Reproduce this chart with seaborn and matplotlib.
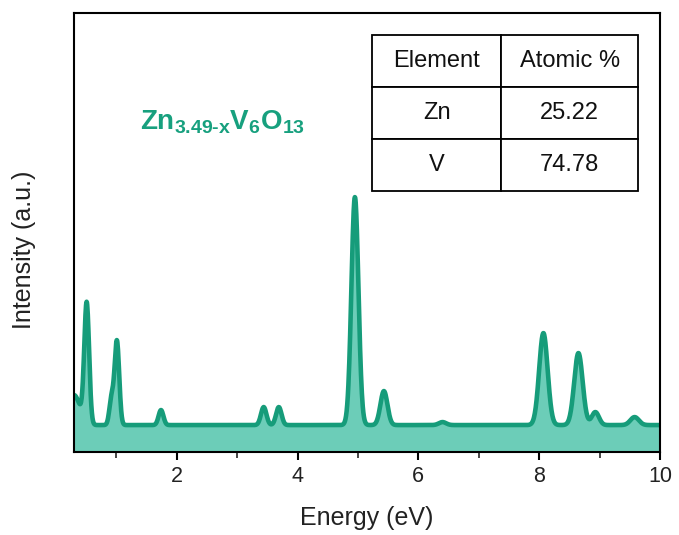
import numpy as np
import pandas as pd
import matplotlib
matplotlib.use("Agg")
import matplotlib.pyplot as plt
import seaborn as sns

# EDS peaks: energy (eV), height above background, width (sigma)
peak_energy = [0.30, 0.51, 0.92, 1.01, 1.74, 3.44, 3.69, 4.95, 5.43, 6.40, 8.07, 8.65, 8.93, 9.58]
peak_height = [30, 120, 26, 84, 15, 18, 18, 228, 34, 3, 92, 72, 13, 8]
peak_sigma = [0.10, 0.04, 0.035, 0.038, 0.04, 0.045, 0.045, 0.058, 0.058, 0.06, 0.07, 0.07, 0.06, 0.07]
background = 27.0

# Table contents
table_header = ["Element", "Atomic %"]
table_elements = ["Zn", "V"]
table_atomic = ["25.22", "74.78"]

x_ticks = [2, 4, 6, 8, 10]
x_minor = [1, 3, 5, 7, 9]

line_color = "#169c7a"
fill_color = "#6ccdb8"

sns.set_theme(style="white")
plt.rcParams["font.family"] = ["Liberation Sans", "DejaVu Sans"]
plt.rcParams["mathtext.fontset"] = "custom"
plt.rcParams["mathtext.bf"] = "Liberation Sans:bold"
plt.rcParams["mathtext.rm"] = "Liberation Sans:bold"

energy = np.linspace(0.3, 10.0, 2000)
counts = np.full_like(energy, background)
for e0, h, s in zip(peak_energy, peak_height, peak_sigma):
    counts += h * np.exp(-0.5 * ((energy - e0) / s) ** 2)
df = pd.DataFrame({"Energy": energy, "Intensity": counts})

fig = plt.figure(figsize=(6.79, 5.35), dpi=100)
ax = fig.add_axes([0.109, 0.155, 0.863, 0.8206])

ax.fill_between(df["Energy"], 0, df["Intensity"], color=fill_color, linewidth=0, zorder=1)
sns.lineplot(data=df, x="Energy", y="Intensity", ax=ax, color=line_color, linewidth=3.3, zorder=2)

ax.set_xlim(0.3, 10.0)
ax.set_ylim(0, 439)
ax.set_xticks(x_ticks)
ax.set_xticks(x_minor, minor=True)
ax.set_yticks([])
ax.tick_params(axis="x", which="major", direction="out", length=6, width=1.5,
               labelsize=15.5, labelcolor="#222222", colors="black", bottom=True, pad=4)
ax.tick_params(axis="x", which="minor", direction="out", length=4, width=1.2, bottom=True)
for sp in ax.spines.values():
    sp.set_color("black")
    sp.set_linewidth(1.5)

ax.set_xlabel("")
ax.set_ylabel("")
fig.text(367 / 679, 1 - 518 / 535, "Energy (eV)", fontsize=18, color="#222222",
         ha="center", va="center")
fig.text(24 / 679, 1 - 250 / 535, "Intensity (a.u.)", fontsize=18, color="#222222",
         ha="center", va="center", rotation=90)

ax.text(0.113, 0.752, r"$\mathbf{Zn_{3.49\text{-}x}V_{6}O_{13}}$", transform=ax.transAxes,
        fontsize=20, color="#17a07e", ha="left", va="center")

cell_text = [[el, at] for el, at in zip(table_elements, table_atomic)]
tbl = ax.table(cellText=[table_header] + cell_text, cellLoc="center",
               colWidths=[0.485, 0.515], bbox=[0.509, 0.595, 0.454, 0.356])
tbl.auto_set_font_size(False)
tbl.set_fontsize(17)
for cell in tbl.get_celld().values():
    cell.set_edgecolor("black")
    cell.set_linewidth(1.3)
    cell.get_text().set_color("#111111")

fig.savefig("out.png", dpi=100)
